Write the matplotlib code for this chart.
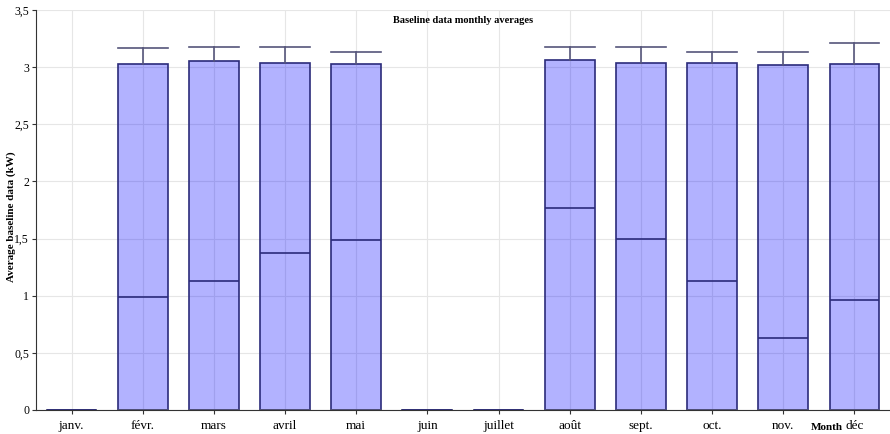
import matplotlib.pyplot as plt
from matplotlib.ticker import FuncFormatter

months = ["janv.", "févr.", "mars", "avril", "mai", "juin", "juillet",
          "août", "sept.", "oct.", "nov.", "déc"]
box_bottom = [0, 0, 0, 0, 0, 0, 0, 0, 0, 0, 0, 0]
medians = [0, 0.99, 1.13, 1.37, 1.49, 0, 0, 1.77, 1.50, 1.13, 0.63, 0.96]
box_top = [0, 3.03, 3.05, 3.04, 3.03, 0, 0, 3.06, 3.04, 3.04, 3.02, 3.03]
whisker_top = [0, 3.17, 3.18, 3.18, 3.13, 0, 0, 3.18, 3.18, 3.13, 3.13, 3.21]

plt.rcParams["font.family"] = ["Liberation Serif", "DejaVu Serif"]

fig = plt.figure(figsize=(8.9, 4.34), dpi=100)
ax = fig.add_axes([0.0404, 0.0553, 0.9596, 0.9217])

stats = []
for m, lo, med, hi, wh in zip(months, box_bottom, medians, box_top, whisker_top):
    stats.append({"label": m, "whislo": lo, "q1": lo, "med": med,
                  "q3": hi, "whishi": wh, "fliers": []})

edge = "#2b2b7a"
ax.bxp(stats, positions=range(len(months)), widths=0.7, patch_artist=True,
       showfliers=False,
       boxprops=dict(facecolor=(0, 0, 1, 0.3), edgecolor=edge, linewidth=1.2),
       medianprops=dict(color=edge, linewidth=1.2),
       whiskerprops=dict(color="#55557a", linewidth=1.2),
       capprops=dict(color="#55557a", linewidth=1.2),
       capwidths=0.7)

ax.set_xlim(-0.5, 11.5)
ax.set_ylim(0, 3.5)
ax.set_yticks([0, 0.5, 1, 1.5, 2, 2.5, 3, 3.5])
ax.yaxis.set_major_formatter(FuncFormatter(lambda v, p: f"{v:g}".replace(".", ",")))
ax.set_xticks(range(len(months)))
ax.set_xticklabels(months)
ax.tick_params(axis="x", labelsize=9.5, length=3, color="#333333", pad=4)
ax.tick_params(axis="y", labelsize=8.5, length=3, color="#333333", pad=2)
ax.grid(True, color="#e6e6e6", linewidth=0.8)
ax.set_axisbelow(True)
for s in ["top", "right"]:
    ax.spines[s].set_visible(False)
ax.spines["left"].set_color("#333333")
ax.spines["bottom"].set_color("#333333")

ax.text(0.5, 0.985, "Baseline data monthly averages", transform=ax.transAxes,
        ha="center", va="top", fontsize=7.5, fontweight="bold")
fig.text(11 / 890, 0.5, "Average baseline data (kW)", rotation=90,
         ha="center", va="center", fontsize=8, fontweight="bold")
fig.text(827 / 890, 1 - 428 / 434, "Month", ha="center", va="center",
         fontsize=8, fontweight="bold")

fig.savefig("out.png", dpi=100)
